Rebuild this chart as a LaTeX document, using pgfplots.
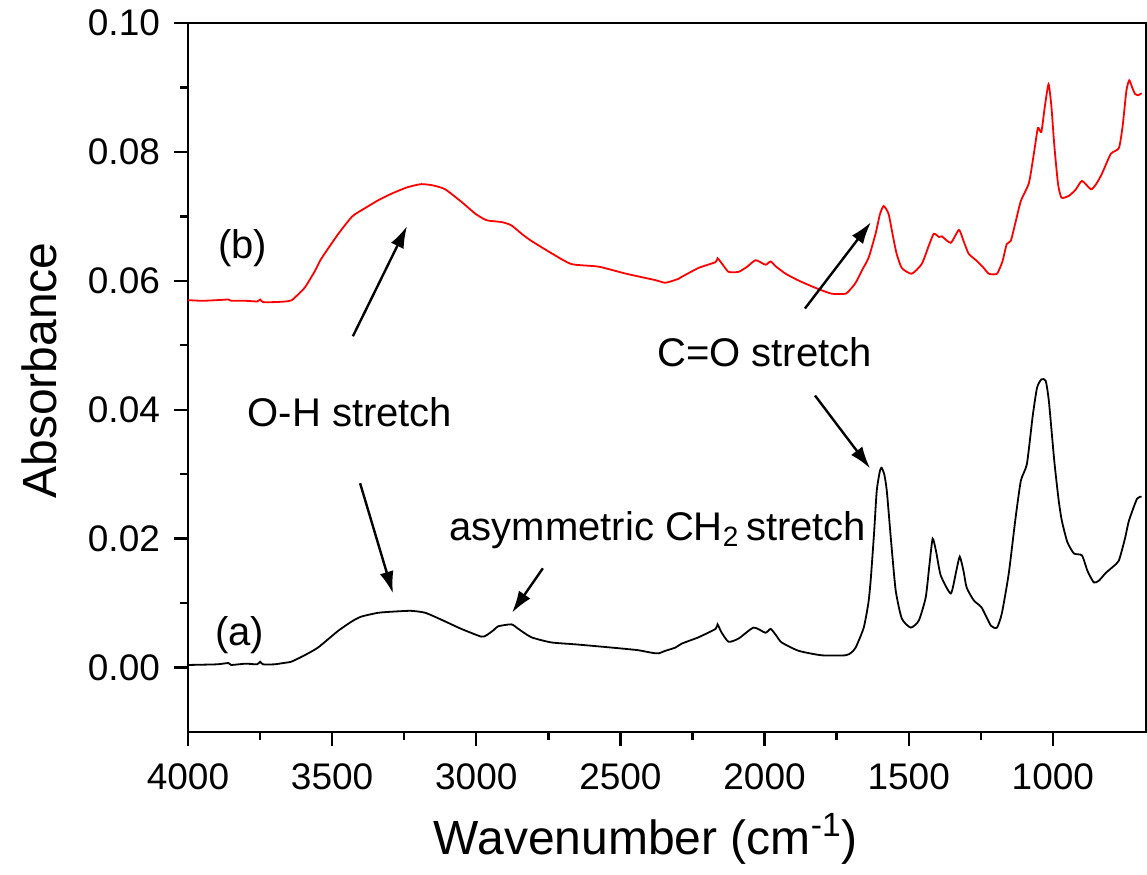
\documentclass[border=0pt]{standalone}
\usepackage{pgfplots}
\pgfplotsset{compat=1.18}
\usepackage{fontspec}
\setmainfont{Liberation Sans}
\usetikzlibrary{arrows.meta}

\begin{document}
\begin{tikzpicture}
\useasboundingbox (-94pt,-71pt) rectangle (479.5pt,366pt);
\begin{axis}[
  at={(0,0)}, anchor=south west,
  scale only axis, width=479pt, height=354.5pt,
  x dir=reverse, xmin=677, xmax=4000, ymin=-0.01, ymax=0.10,
  xtick={1000,1500,...,4000}, ytick={0,0.02,...,0.1},
  minor x tick num=1, minor y tick num=1,
  tick pos=left, tick align=outside,
  major tick length=7pt, minor tick length=4pt,
  axis line style={line width=1.4pt},
  every tick/.style={line width=1.2pt, black},
  scaled y ticks=false,
  /pgf/number format/assume math mode=true,
  yticklabel style={xshift=-3.5pt, /pgf/number format/.cd, fixed, fixed zerofill, precision=2},
  xticklabel style={yshift=-5.5pt, /pgf/number format/.cd, set thousands separator={}},
  tick label style={font=\fontsize{18.5}{22}\selectfont},
  xlabel={Wavenumber (cm\textsuperscript{-1})},
  ylabel={Absorbance},
  label style={font=\fontsize{24}{28}\selectfont},
  xlabel style={at={(axis description cs:0.478,-0.173)}, anchor=base},
  ylabel style={at={(axis description cs:-0.155,0.51)}, anchor=center},
]
% (b) upper spectrum
\addplot[red, line width=0.9pt, smooth, tension=0.35] coordinates {
(4000,0.0570) (3950,0.0569) (3900,0.0570) (3860,0.0571) (3850,0.0569) (3800,0.0569)
(3760,0.0568) (3750,0.0571) (3740,0.0567) (3700,0.0567) (3660,0.0568) (3640,0.0570)
(3620,0.0578) (3594,0.0590) (3560,0.0615) (3538,0.0634) (3480,0.0672) (3430,0.0700)
(3385,0.0713) (3340,0.0725) (3295,0.0735) (3240,0.0745) (3191,0.0750) (3150,0.0748)
(3108,0.0742) (3050,0.0722) (3003,0.0704) (2970,0.0695) (2951,0.0693) (2910,0.0691)
(2878,0.0686) (2840,0.0672) (2809,0.0662) (2740,0.0643) (2670,0.0626) (2576,0.0622)
(2480,0.0611) (2378,0.0601) (2344,0.0597) (2299,0.0603) (2288,0.0606) (2229,0.0620)
(2170,0.0629) (2163,0.0635) (2150,0.0628) (2125,0.0614) (2090,0.0614) (2060,0.0622)
(2031,0.0632) (1997,0.0625) (1979,0.0630) (1960,0.0622) (1927,0.0611) (1880,0.0600)
(1823,0.0589) (1767,0.0580) (1719,0.0580) (1700,0.0588) (1684,0.0597) (1660,0.0618)
(1639,0.0636) (1615,0.0673) (1600,0.0703) (1587,0.0716) (1570,0.0704) (1555,0.0670)
(1542,0.0642) (1524,0.0620) (1490,0.0611) (1455,0.0626) (1430,0.0655) (1413,0.0673)
(1395,0.0668) (1385,0.0669) (1354,0.0659) (1326,0.0679) (1310,0.0662) (1292,0.0642)
(1264,0.0631) (1240,0.0620) (1222,0.0611) (1194,0.0611) (1175,0.0630) (1160,0.0657)
(1146,0.0662) (1130,0.0690) (1111,0.0724) (1083,0.0752) (1065,0.0800) (1052,0.0837)
(1040,0.0831) (1028,0.0870) (1015,0.0905) (1005,0.0870) (995,0.0810) (982,0.0750)
(970,0.0729) (944,0.0732) (920,0.0742) (899,0.0755) (868,0.0742) (850,0.0750)
(830,0.0766) (799,0.0797) (771,0.0806) (758,0.0840) (745,0.0895) (735,0.0911)
(725,0.0900) (715,0.0890) (704,0.0888) (692,0.0891)
};
% (a) lower spectrum
\addplot[black, line width=0.9pt, smooth, tension=0.35] coordinates {
(4000,0.0004) (3900,0.0005) (3860,0.0007) (3850,0.0004) (3800,0.0006) (3760,0.0005)
(3750,0.0009) (3740,0.0005) (3700,0.0005) (3670,0.0007) (3642,0.0009) (3600,0.0018)
(3549,0.0031) (3479,0.0057) (3430,0.0072) (3399,0.0079) (3340,0.0085) (3280,0.0087)
(3226,0.0088) (3177,0.0085) (3120,0.0074) (3052,0.0060) (2983,0.0048) (2965,0.0050)
(2940,0.0058) (2924,0.0064) (2878,0.0067) (2854,0.0060) (2809,0.0047) (2740,0.0039)
(2656,0.0036) (2531,0.0031) (2440,0.0027) (2392,0.0023) (2368,0.0022) (2344,0.0026)
(2309,0.0031) (2288,0.0037) (2229,0.0047) (2170,0.0060) (2163,0.0067) (2150,0.0055)
(2125,0.0040) (2090,0.0045) (2038,0.0062) (1997,0.0054) (1979,0.0060) (1960,0.0050)
(1941,0.0039) (1882,0.0026) (1802,0.0019) (1719,0.0019) (1700,0.0023) (1684,0.0031)
(1656,0.0062) (1640,0.0100) (1632,0.0135) (1620,0.0210) (1611,0.0274) (1600,0.0305)
(1594,0.0310) (1585,0.0300) (1576,0.0274) (1560,0.0190) (1545,0.0119) (1524,0.0076)
(1493,0.0062) (1465,0.0073) (1441,0.0109) (1428,0.0160) (1417,0.0200) (1405,0.0180)
(1389,0.0143) (1354,0.0115) (1335,0.0150) (1323,0.0172) (1310,0.0150) (1299,0.0124)
(1274,0.0104) (1247,0.0093) (1215,0.0065) (1194,0.0062) (1177,0.0084) (1153,0.0146)
(1130,0.0230) (1111,0.0290) (1090,0.0316) (1070,0.0390) (1055,0.0434) (1040,0.0447)
(1025,0.0445) (1014,0.0414) (995,0.0320) (980,0.0260) (969,0.0228) (950,0.0195)
(927,0.0177) (899,0.0174) (880,0.0150) (858,0.0132) (840,0.0135) (816,0.0147)
(790,0.0157) (771,0.0166) (750,0.0200) (736,0.0228) (708,0.0262) (692,0.0265)
};
% labels and arrows
\node[font=\fontsize{20}{24}\selectfont] at (axis cs:3810,0.0651) {(b)};
\node[font=\fontsize{20}{24}\selectfont] at (axis cs:3820,0.0050) {(a)};
\node[font=\fontsize{20}{24}\selectfont] at (axis cs:3438,0.0396) {O-H stretch};
\node[font=\fontsize{20}{24}\selectfont] at (axis cs:2000,0.0489) {C=O stretch};
\node[font=\fontsize{20}{24}\selectfont] at (axis cs:2370,0.0213) {asymmetric CH\textsubscript{2}\,stretch};
\begin{scope}[line width=1.2pt, -{Latex[length=11pt,width=7pt]}]
\draw (axis cs:3428,0.0514) -- (axis cs:3240,0.0685);
\draw (axis cs:3403,0.0286) -- (axis cs:3289,0.0115);
\draw (axis cs:2769,0.0154) -- (axis cs:2876,0.0085);
\draw (axis cs:1860,0.0557) -- (axis cs:1631,0.0691);
\draw (axis cs:1825,0.0422) -- (axis cs:1634,0.0309);
\end{scope}
\end{axis}
\end{tikzpicture}
\end{document}
